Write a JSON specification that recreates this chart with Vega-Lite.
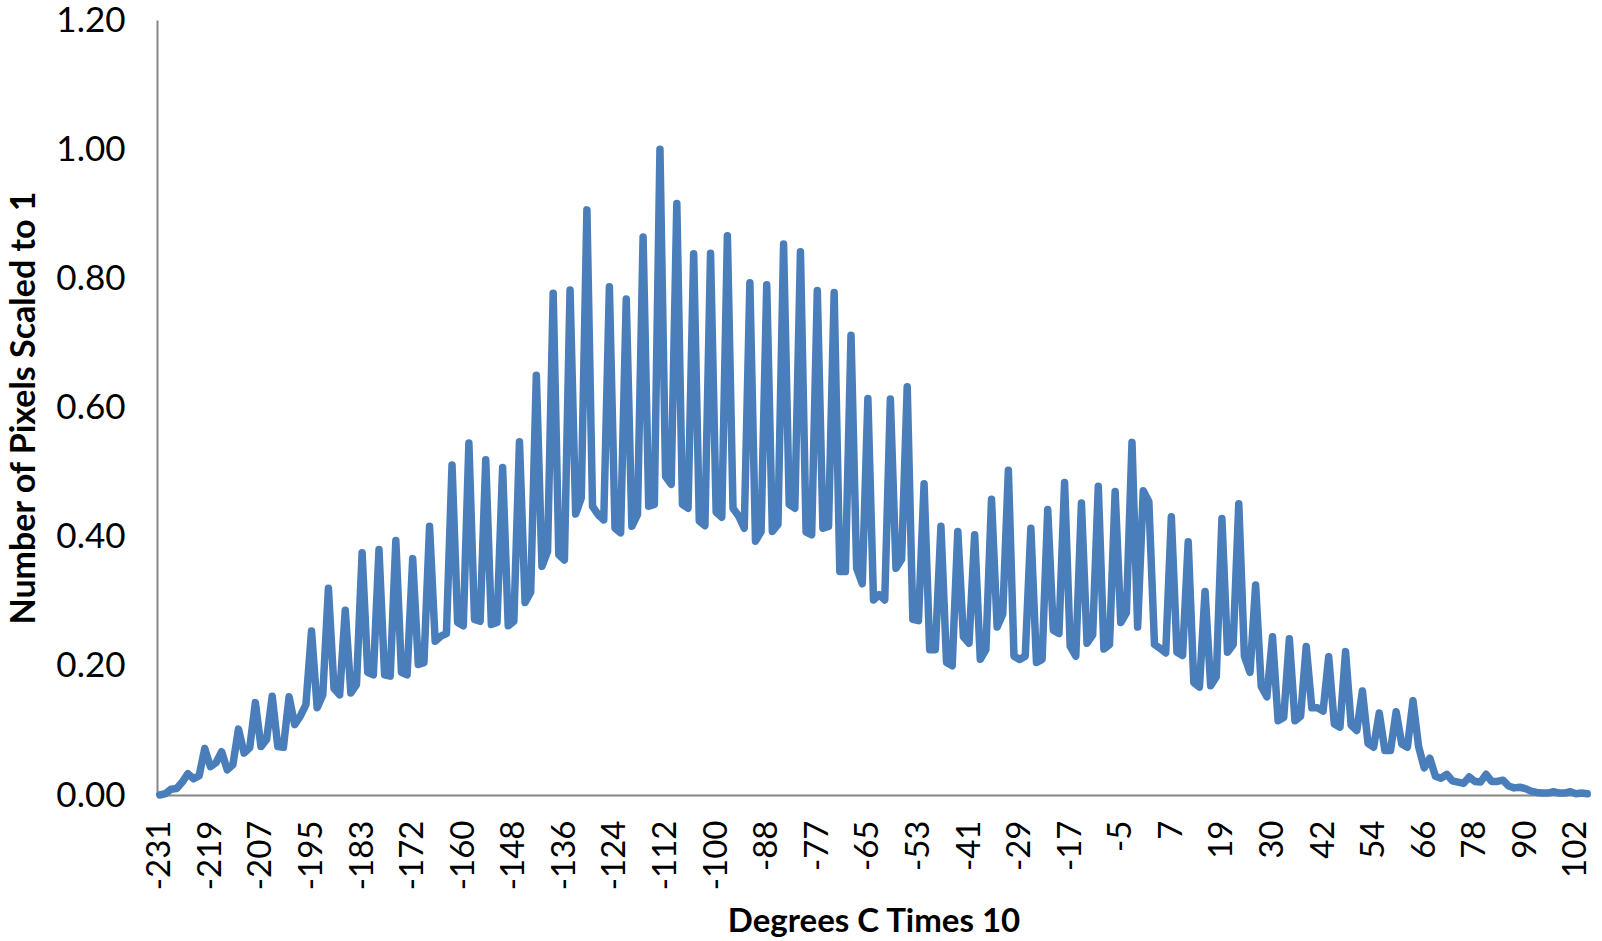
{
"$schema": "https://vega.github.io/schema/vega-lite/v6.json",
"width": 1433, "height": 775,
"autosize": {"type": "none"},
"padding": {"left": 157, "top": 20, "right": 12, "bottom": 146},
"background": "white",
"config": {"view": {"stroke": null}, "font": "Lato"},
"data": {"values": [
{"t":-231,"v":0},{"t":-230,"v":0.002},{"t":-228,"v":0.009},{"t":-227,"v":0.01},{"t":-226,"v":0.02},{"t":-224,"v":0.033},{"t":-223,"v":0.025},{"t":-222,"v":0.03},{"t":-220,"v":0.072},{"t":-219,"v":0.044},
{"t":-218,"v":0.05},{"t":-216,"v":0.067},{"t":-215,"v":0.039},{"t":-214,"v":0.047},{"t":-212,"v":0.102},{"t":-211,"v":0.065},{"t":-210,"v":0.073},{"t":-209,"v":0.143},{"t":-207,"v":0.075},{"t":-206,"v":0.086},
{"t":-205,"v":0.153},{"t":-203,"v":0.075},{"t":-202,"v":0.074},{"t":-201,"v":0.152},{"t":-199,"v":0.109},{"t":-198,"v":0.122},{"t":-197,"v":0.14},{"t":-195,"v":0.254},{"t":-194,"v":0.135},{"t":-193,"v":0.155},
{"t":-191,"v":0.32},{"t":-190,"v":0.165},{"t":-189,"v":0.155},{"t":-187,"v":0.286},{"t":-186,"v":0.158},{"t":-185,"v":0.171},{"t":-183,"v":0.375},{"t":-182,"v":0.19},{"t":-181,"v":0.186},{"t":-179,"v":0.38},
{"t":-178,"v":0.186},{"t":-177,"v":0.184},{"t":-176,"v":0.394},{"t":-174,"v":0.19},{"t":-173,"v":0.186},{"t":-172,"v":0.366},{"t":-170,"v":0.202},{"t":-169,"v":0.205},{"t":-168,"v":0.416},{"t":-166,"v":0.238},
{"t":-165,"v":0.246},{"t":-164,"v":0.25},{"t":-162,"v":0.511},{"t":-161,"v":0.267},{"t":-160,"v":0.262},{"t":-158,"v":0.545},{"t":-157,"v":0.272},{"t":-156,"v":0.269},{"t":-154,"v":0.519},{"t":-153,"v":0.264},
{"t":-152,"v":0.267},{"t":-150,"v":0.507},{"t":-149,"v":0.262},{"t":-148,"v":0.269},{"t":-146,"v":0.547},{"t":-145,"v":0.298},{"t":-144,"v":0.314},{"t":-143,"v":0.65},{"t":-141,"v":0.354},{"t":-140,"v":0.377},
{"t":-139,"v":0.777},{"t":-137,"v":0.372},{"t":-136,"v":0.364},{"t":-135,"v":0.782},{"t":-133,"v":0.435},{"t":-132,"v":0.46},{"t":-131,"v":0.906},{"t":-129,"v":0.447},{"t":-128,"v":0.434},{"t":-127,"v":0.426},
{"t":-125,"v":0.787},{"t":-124,"v":0.413},{"t":-123,"v":0.406},{"t":-121,"v":0.768},{"t":-120,"v":0.416},{"t":-119,"v":0.434},{"t":-117,"v":0.864},{"t":-116,"v":0.447},{"t":-115,"v":0.45},{"t":-113,"v":1.0},
{"t":-112,"v":0.493},{"t":-111,"v":0.481},{"t":-110,"v":0.916},{"t":-108,"v":0.45},{"t":-107,"v":0.444},{"t":-106,"v":0.838},{"t":-104,"v":0.424},{"t":-103,"v":0.417},{"t":-102,"v":0.839},{"t":-100,"v":0.438},
{"t":-99,"v":0.43},{"t":-98,"v":0.866},{"t":-96,"v":0.444},{"t":-95,"v":0.432},{"t":-94,"v":0.413},{"t":-92,"v":0.793},{"t":-91,"v":0.393},{"t":-90,"v":0.408},{"t":-88,"v":0.79},{"t":-87,"v":0.408},
{"t":-86,"v":0.419},{"t":-84,"v":0.853},{"t":-83,"v":0.45},{"t":-82,"v":0.444},{"t":-80,"v":0.841},{"t":-79,"v":0.407},{"t":-78,"v":0.403},{"t":-77,"v":0.781},{"t":-75,"v":0.413},{"t":-74,"v":0.416},
{"t":-73,"v":0.778},{"t":-71,"v":0.346},{"t":-70,"v":0.346},{"t":-69,"v":0.712},{"t":-67,"v":0.351},{"t":-66,"v":0.327},{"t":-65,"v":0.614},{"t":-63,"v":0.302},{"t":-62,"v":0.31},{"t":-61,"v":0.302},
{"t":-59,"v":0.613},{"t":-58,"v":0.351},{"t":-57,"v":0.365},{"t":-55,"v":0.632},{"t":-54,"v":0.272},{"t":-53,"v":0.27},{"t":-51,"v":0.482},{"t":-50,"v":0.225},{"t":-49,"v":0.225},{"t":-47,"v":0.416},
{"t":-46,"v":0.205},{"t":-45,"v":0.2},{"t":-44,"v":0.408},{"t":-42,"v":0.245},{"t":-41,"v":0.235},{"t":-40,"v":0.403},{"t":-38,"v":0.21},{"t":-37,"v":0.225},{"t":-36,"v":0.458},{"t":-34,"v":0.26},
{"t":-33,"v":0.28},{"t":-32,"v":0.503},{"t":-30,"v":0.215},{"t":-29,"v":0.21},{"t":-28,"v":0.215},{"t":-26,"v":0.413},{"t":-25,"v":0.205},{"t":-24,"v":0.21},{"t":-22,"v":0.442},{"t":-21,"v":0.255},
{"t":-20,"v":0.25},{"t":-18,"v":0.484},{"t":-17,"v":0.23},{"t":-16,"v":0.215},{"t":-14,"v":0.452},{"t":-13,"v":0.235},{"t":-12,"v":0.248},{"t":-11,"v":0.478},{"t":-9,"v":0.226},{"t":-8,"v":0.233},
{"t":-7,"v":0.47},{"t":-5,"v":0.267},{"t":-4,"v":0.282},{"t":-3,"v":0.546},{"t":-1,"v":0.26},{"t":0,"v":0.471},{"t":1,"v":0.454},{"t":3,"v":0.233},{"t":4,"v":0.227},{"t":5,"v":0.22},
{"t":7,"v":0.431},{"t":8,"v":0.221},{"t":9,"v":0.216},{"t":11,"v":0.392},{"t":12,"v":0.174},{"t":13,"v":0.167},{"t":15,"v":0.315},{"t":16,"v":0.169},{"t":17,"v":0.183},{"t":19,"v":0.428},
{"t":20,"v":0.221},{"t":21,"v":0.233},{"t":22,"v":0.451},{"t":24,"v":0.215},{"t":25,"v":0.19},{"t":26,"v":0.325},{"t":28,"v":0.168},{"t":29,"v":0.152},{"t":30,"v":0.245},{"t":32,"v":0.115},
{"t":33,"v":0.12},{"t":34,"v":0.242},{"t":36,"v":0.115},{"t":37,"v":0.122},{"t":38,"v":0.23},{"t":40,"v":0.135},{"t":41,"v":0.135},{"t":42,"v":0.13},{"t":44,"v":0.214},{"t":45,"v":0.11},
{"t":46,"v":0.105},{"t":48,"v":0.222},{"t":49,"v":0.108},{"t":50,"v":0.1},{"t":52,"v":0.161},{"t":53,"v":0.08},{"t":54,"v":0.074},{"t":55,"v":0.127},{"t":57,"v":0.069},{"t":58,"v":0.069},
{"t":59,"v":0.129},{"t":61,"v":0.079},{"t":62,"v":0.074},{"t":63,"v":0.146},{"t":65,"v":0.075},{"t":66,"v":0.042},{"t":67,"v":0.057},{"t":69,"v":0.029},{"t":70,"v":0.026},{"t":71,"v":0.032},
{"t":73,"v":0.022},{"t":74,"v":0.02},{"t":75,"v":0.018},{"t":77,"v":0.028},{"t":78,"v":0.021},{"t":79,"v":0.02},{"t":81,"v":0.032},{"t":82,"v":0.021},{"t":83,"v":0.021},{"t":85,"v":0.023},
{"t":86,"v":0.014},{"t":87,"v":0.011},{"t":88,"v":0.012},{"t":90,"v":0.01},{"t":91,"v":0.006},{"t":92,"v":0.004},{"t":94,"v":0.003},{"t":95,"v":0.003},{"t":96,"v":0.005},{"t":98,"v":0.003},
{"t":99,"v":0.003},{"t":100,"v":0.005},{"t":102,"v":0.002},{"t":103,"v":0.003},{"t":104,"v":0.002}
]},
"mark": {"type": "line", "color": "#4A7EBB", "strokeWidth": 7.5, "strokeCap": "round", "strokeJoin": "round"},
"encoding": {
  "x": {"field": "t", "type": "ordinal", "sort": "ascending",
    "scale": {"type": "point", "padding": 0.5},
    "axis": {"values": [-231,-219,-207,-195,-183,-172,-160,-148,-136,-124,-112,-100,-88,-77,-65,-53,-41,-29,-17,-5,7,19,30,42,54,66,78,90,102],
      "labelAngle": -90, "labelFont": "Lato", "labelFontSize": 33, "labelColor": "#000000", "labelPadding": 25, "labelOverlap": false,
      "ticks": false, "grid": false, "domainColor": "#868686", "domainWidth": 2,
      "title": "Degrees C Times 10", "titleFont": "Lato", "titleFontSize": 33, "titleFontWeight": "bold", "titleColor": "#000000", "titlePadding": 16}},
  "y": {"field": "v", "type": "quantitative",
    "scale": {"domain": [0, 1.2], "nice": false, "zero": true},
    "axis": {"values": [0, 0.2, 0.4, 0.6, 0.8, 1.0, 1.2], "format": ".2f",
      "labelFont": "Lato", "labelFontSize": 35, "labelColor": "#000000", "labelPadding": 32,
      "ticks": false, "grid": false, "domainColor": "#868686", "domainWidth": 2,
      "title": "Number of Pixels Scaled to 1", "titleFont": "Lato", "titleFontSize": 34, "titleFontWeight": "bold", "titleColor": "#000000", "titlePadding": 14}}
}
}
